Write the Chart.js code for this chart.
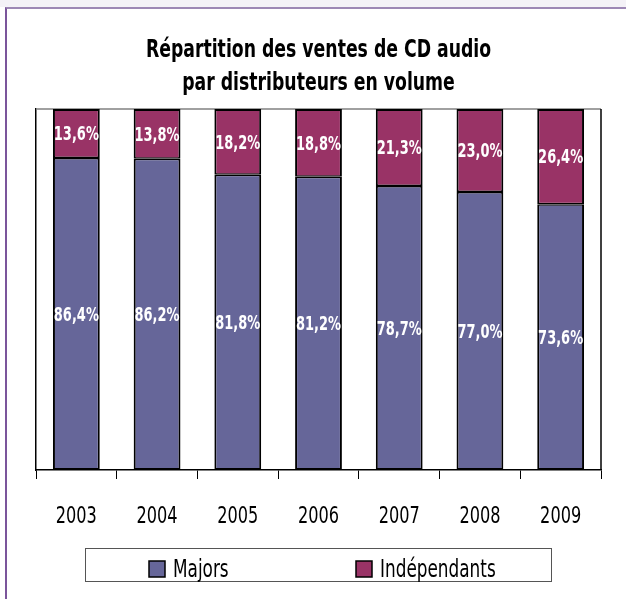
<!DOCTYPE html>
<html>
<head>
<meta charset="utf-8">
<script src="https://cdn.jsdelivr.net/npm/chart.js@4.4.0/dist/chart.umd.min.js"></script>
<style>
  body { margin: 0; background: #fff; }
  #wrap { position: relative; width: 626px; height: 599px; }
  #topStrip { position: absolute; left: 0; top: 0; width: 626px; height: 7px; background: #f4f2f7; }
  #frame { position: absolute; left: 5px; top: 7px; width: 621px; height: 592px;
           border-top: 2px solid #9d88b5; border-left: 2px solid #7b559b; box-sizing: border-box; }
  canvas { position: absolute; left: 0; top: 0; }
</style>
</head>
<body>
<div id="wrap">
  <div id="topStrip"></div>
  <div id="frame"></div>
  <canvas id="myChart" width="626" height="599"></canvas>
</div>
<script>
const years = ['2003', '2004', '2005', '2006', '2007', '2008', '2009'];
const majors = [86.4, 86.2, 81.8, 81.2, 78.7, 77.0, 73.6];
const independants = [13.6, 13.8, 18.2, 18.8, 21.3, 23.0, 26.4];
const seriesNames = ['Majors', 'Indépendants'];
const titleLines = ['Répartition des ventes de CD audio', 'par distributeurs en volume'];

const FONT = '"DejaVu Sans Condensed", "Liberation Sans Narrow", sans-serif';
Chart.defaults.font.family = FONT;
Chart.defaults.color = '#000';

// the original uses a very condensed face, so squeeze text horizontally
function narrowText(ctx, text, x, y, font, sx, align) {
    ctx.save();
    ctx.font = font;
    ctx.textAlign = align || 'center';
    ctx.textBaseline = 'alphabetic';
    ctx.translate(x, y);
    ctx.scale(sx, 1);
    ctx.fillText(text, 0, 0);
    ctx.restore();
}

// white % labels in the middle of each segment
const barLabels = {
    id: 'barLabels',
    afterDatasetsDraw(chart) {
        const ctx = chart.ctx;
        ctx.save();
        ctx.fillStyle = '#fff';
        chart.data.datasets.forEach((ds, i) => {
            chart.getDatasetMeta(i).data.forEach((bar, j) => {
                const p = bar.getProps(['x', 'y', 'base'], true);
                const txt = ds.data[j].toFixed(1).replace('.', ',') + '%';
                narrowText(ctx, txt, p.x, (p.y + p.base) / 2 + 6.8, 'bold 19px ' + FONT, 0.76);
            });
        });
        ctx.restore();
    }
};

// title, category labels, top/right edges of the plot area
const frameAndText = {
    id: 'frameAndText',
    beforeDatasetsDraw(chart) {
        const { ctx, chartArea: a } = chart;
        ctx.save();
        ctx.lineWidth = 1.5;
        ctx.strokeStyle = '#808080';
        ctx.beginPath();
        ctx.moveTo(a.left, a.top);
        ctx.lineTo(a.right, a.top);
        ctx.stroke();
        ctx.strokeStyle = '#000';
        ctx.beginPath();
        ctx.moveTo(a.right, a.top);
        ctx.lineTo(a.right, a.bottom);
        ctx.stroke();
        ctx.restore();
    },
    afterDraw(chart) {
        const { ctx, chartArea: a } = chart;
        const xs = chart.scales.x;
        ctx.save();
        ctx.fillStyle = '#000';
        const cx = (a.left + a.right) / 2;
        narrowText(ctx, titleLines[0], cx, 57, 'bold 24px ' + FONT, 0.8);
        narrowText(ctx, titleLines[1], cx, 90, 'bold 24px ' + FONT, 0.8);
        chart.data.labels.forEach((lab, i) => {
            narrowText(ctx, lab, xs.getPixelForTick(i), 523, '23px ' + FONT, 0.78);
        });
        ctx.restore();
    }
};

// boxed legend under the axis
const boxLegend = {
    id: 'boxLegend',
    afterDraw(chart) {
        const ctx = chart.ctx;
        const box = { left: 85, top: 548, width: 466, height: 33 };
        const itemX = [149, 356];
        ctx.save();
        ctx.strokeStyle = '#555';
        ctx.lineWidth = 1;
        ctx.strokeRect(box.left + 0.5, box.top + 0.5, box.width, box.height);
        chart.data.datasets.forEach((ds, i) => {
            const x = itemX[i];
            ctx.fillStyle = ds.backgroundColor;
            ctx.fillRect(x, 561, 16, 16);
            ctx.strokeStyle = '#000';
            ctx.lineWidth = 1.5;
            ctx.strokeRect(x, 561, 16, 16);
            ctx.fillStyle = '#000';
            narrowText(ctx, ds.label, x + 24, 577, '25px ' + FONT, 0.75, 'left');
        });
        ctx.restore();
    }
};

const ctx = document.getElementById('myChart').getContext('2d');
const myChart = new Chart(ctx, {
    type: 'bar',
    data: {
        labels: years,
        datasets: [{
            label: seriesNames[0],
            data: majors,
            backgroundColor: '#666699',
            borderColor: '#000',
            borderWidth: { top: 1.5, left: 2, right: 2, bottom: 2 },
            borderSkipped: false
        }, {
            label: seriesNames[1],
            data: independants,
            backgroundColor: '#993366',
            borderColor: '#000',
            borderWidth: { top: 2, left: 2, right: 2, bottom: 1.5 },
            borderSkipped: false
        }]
    },
    options: {
        responsive: false,
        animation: false,
        layout: { padding: { left: 36, right: 25, top: 109, bottom: 69 } },
        datasets: { bar: { categoryPercentage: 1, barPercentage: 0.58 } },
        scales: {
            x: {
                stacked: true,
                grid: { drawOnChartArea: false, color: '#000', tickLength: 9, offset: true },
                border: { color: '#000', width: 1.5 },
                ticks: { font: { size: 23 }, padding: 20, color: 'rgba(0,0,0,0)' },
                afterFit(scale) { scale.height = 60; }
            },
            y: {
                stacked: true,
                min: 0,
                max: 100,
                grid: { display: false },
                border: { display: true, color: '#000', width: 1.5 },
                ticks: { display: false },
                afterFit(scale) { scale.width = 0; }
            }
        },
        plugins: {
            legend: { display: false },
            tooltip: { enabled: false },
            title: { display: false }
        }
    },
    plugins: [barLabels, frameAndText, boxLegend]
});
</script>
</body>
</html>
